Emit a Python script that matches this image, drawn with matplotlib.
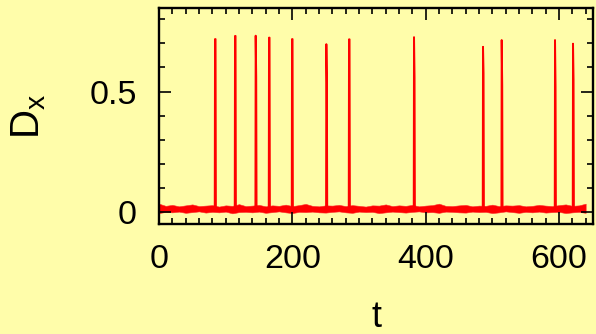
import numpy as np
import matplotlib
matplotlib.use("Agg")
import matplotlib.pyplot as plt
from matplotlib.ticker import MultipleLocator

# spikes: time, peak value, second (lower) value
spike_t = [84, 114, 145, 165, 199.5, 251, 285, 382.5, 486, 514, 594, 621]
spike_peak = [0.717, 0.730, 0.731, 0.723, 0.717, 0.696, 0.716, 0.725, 0.685, 0.713, 0.713, 0.698]
spike_second = [0.717, 0.730, 0.560, 0.723, 0.717, 0.537, 0.716, 0.560, 0.576, 0.527, 0.520, 0.550]

# noisy baseline envelope, every 10 time units
env_t = list(range(0, 650, 10))
env_hi = [0.036, 0.027, 0.031, 0.025, 0.029, 0.033, 0.026, 0.028, 0.030, 0.024, 0.029, 0.027, 0.034,
          0.026, 0.028, 0.031, 0.025, 0.029, 0.027, 0.032, 0.026, 0.030, 0.035, 0.027, 0.025, 0.029,
          0.028, 0.031, 0.026, 0.030, 0.027, 0.024, 0.029, 0.028, 0.033, 0.026, 0.029, 0.027, 0.031,
          0.025, 0.028, 0.030, 0.036, 0.027, 0.026, 0.029, 0.031, 0.025, 0.028, 0.027, 0.032, 0.026,
          0.029, 0.028, 0.030, 0.025, 0.027, 0.031, 0.028, 0.026, 0.030, 0.033, 0.027, 0.029, 0.036]
env_lo = [-0.003, 0.002, 0.000, 0.003, -0.002, 0.001, 0.004, -0.001, 0.002, 0.000, 0.003, -0.004, 0.001,
          0.002, 0.000, 0.003, -0.002, 0.001, 0.004, 0.000, -0.003, 0.002, 0.001, 0.003, 0.000, -0.001,
          0.002, 0.004, 0.000, -0.002, 0.003, 0.001, 0.002, -0.003, 0.000, 0.003, 0.001, -0.001, 0.002,
          0.004, 0.000, 0.001, -0.002, 0.003, 0.002, 0.000, -0.001, 0.003, 0.001, 0.002, -0.003, 0.000,
          0.004, 0.001, -0.002, 0.002, 0.000, 0.003, -0.001, 0.001, 0.002, -0.003, 0.000, 0.002, -0.002]

bg = '#fffdaa'
plt.rcParams['font.family'] = ['Liberation Sans', 'DejaVu Sans']
plt.rcParams['mathtext.fontset'] = 'custom'
plt.rcParams['mathtext.rm'] = 'Liberation Sans'
plt.rcParams['mathtext.it'] = 'Liberation Sans'

fig = plt.figure(figsize=(5.96, 3.34), dpi=100, facecolor=bg)
ax = fig.add_axes([0.2668, 0.328, 0.995 - 0.2668, 0.977 - 0.328])
ax.set_facecolor(bg)

ax.fill_between(env_t, env_lo, env_hi, color='#ff0000', lw=0.4, edgecolor='#ff2a2a')

base = 0.014
for t, pk, sec in zip(spike_t, spike_peak, spike_second):
    ax.plot([t - 0.4, t, t + 0.8, t + 1.3], [base, pk, sec, base], color='#ff0000', lw=1.4)

ax.set_xlim(0, 651)
ax.set_ylim(-0.05, 0.847)

ax.set_xticks([0, 200, 400, 600])
ax.set_xticklabels(['0', '200', '400', '600'])
ax.xaxis.set_minor_locator(MultipleLocator(20))
ax.set_yticks([0, 0.5])
ax.set_yticklabels(['0', '0.5'])
ax.yaxis.set_minor_locator(MultipleLocator(0.1))

ax.tick_params(which='both', direction='in', top=True, right=True, width=1.2, color='black')
ax.tick_params(which='major', length=8.6, labelsize=24.5)
ax.tick_params(axis='x', which='major', pad=14)
ax.tick_params(axis='y', which='major', pad=16)
ax.tick_params(which='minor', length=4.3)
for s in ax.spines.values():
    s.set_linewidth(1.7)

ax.set_xlabel('t', fontsize=26, labelpad=18)
ax.set_ylabel(r'$\mathrm{D_x}$', fontsize=29, labelpad=30)

fig.savefig('out.png', dpi=100, facecolor=bg)
